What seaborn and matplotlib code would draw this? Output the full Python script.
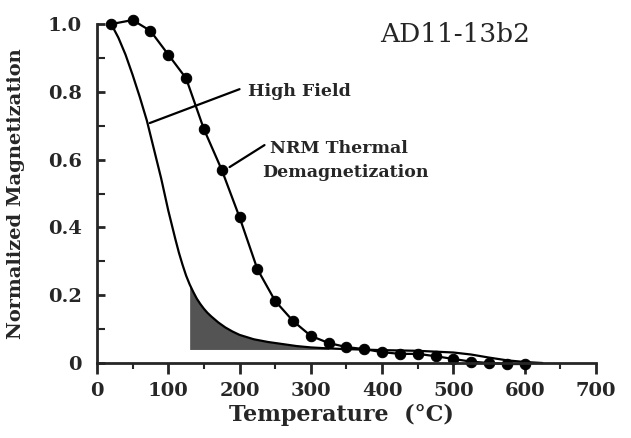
import numpy as np
import pandas as pd
import seaborn as sns
import matplotlib.pyplot as plt
from matplotlib.ticker import MultipleLocator

# NRM thermal demagnetization steps
nrm_temp = [20, 50, 75, 100, 125, 150, 175, 200, 225, 250, 275, 300,
            325, 350, 375, 400, 425, 450, 475, 500, 525, 550, 575, 600]
nrm_mag = [1.0, 1.012, 0.98, 0.91, 0.84, 0.69, 0.57, 0.43, 0.277, 0.183, 0.124, 0.08,
           0.059, 0.047, 0.041, 0.032, 0.027, 0.027, 0.02, 0.012, 0.004, 0.0, -0.003, -0.003]

# high field thermomagnetic curve
hf_temp = [20, 30, 40, 50, 60, 70, 80, 90, 100, 110, 115, 120, 125, 130, 135, 140,
           145, 150, 155, 160, 170, 180, 190, 200, 220, 240, 260, 280, 300, 325,
           350, 400, 450, 500, 525, 550, 575, 600, 625]
hf_mag = [1.0, 0.96, 0.91, 0.85, 0.785, 0.715, 0.63, 0.545, 0.45, 0.365, 0.325,
          0.29, 0.258, 0.232, 0.21, 0.19, 0.174, 0.16, 0.148, 0.138, 0.12, 0.105,
          0.093, 0.083, 0.07, 0.062, 0.056, 0.05, 0.046, 0.043, 0.041, 0.038,
          0.036, 0.031, 0.025, 0.016, 0.008, 0.003, 0.0]

shade_from, shade_to, shade_floor = 130, 325, 0.04

nrm = pd.DataFrame({'T': nrm_temp, 'M': nrm_mag})
hf = pd.DataFrame({'T': hf_temp, 'M': hf_mag})

sns.set_style("ticks")
plt.rcParams['font.family'] = 'DejaVu Serif'
plt.rcParams['font.weight'] = 'bold'

fig = plt.figure(figsize=(6.31, 4.38), dpi=100)
ax = fig.add_axes([0.1537, 0.1712, 0.7908, 0.7738])

sns.lineplot(data=hf, x='T', y='M', color='black', lw=1.6, ax=ax)
sns.lineplot(data=nrm, x='T', y='M', color='black', lw=1.6, marker='o',
             markersize=7.5, markeredgecolor='black', ax=ax)
for ln in ax.lines:
    ln.set_clip_on(False)

m = (hf['T'] >= shade_from) & (hf['T'] <= shade_to)
ax.fill_between(hf['T'][m], shade_floor, hf['M'][m], color='0.33', lw=0)

ax.set_xlim(0, 700)
ax.set_ylim(0, 1.0)
ax.xaxis.set_major_locator(MultipleLocator(100))
ax.xaxis.set_minor_locator(MultipleLocator(50))
ax.yaxis.set_minor_locator(MultipleLocator(0.1))
ax.set_yticks([0, 0.2, 0.4, 0.6, 0.8, 1.0])
ax.set_yticklabels(['0', '0.2', '0.4', '0.6', '0.8', '1.0'])
ax.tick_params(axis='x', which='major', direction='out', length=8, width=2,
               labelsize=14, pad=6)
ax.tick_params(axis='x', which='minor', direction='out', length=4, width=1.5)
ax.tick_params(axis='y', which='major', direction='in', length=6, width=2,
               labelsize=14, pad=11)
ax.tick_params(axis='y', which='minor', direction='in', length=6, width=1.5)
for lab in ax.get_xticklabels() + ax.get_yticklabels():
    lab.set_fontweight('bold')

sns.despine(ax=ax)
for s in ['left', 'bottom']:
    ax.spines[s].set_linewidth(2)

ax.set_xlabel('Temperature  (°C)', fontsize=16, fontweight='bold')
ax.set_ylabel('Normalized Magnetization', fontsize=14, fontweight='bold')
ax.xaxis.set_label_coords(0.49, -0.12)
ax.yaxis.set_label_coords(-0.145, 0.5)

# annotations
ax.plot([74, 200], [0.708, 0.808], color='black', lw=1.6)
ax.text(212, 0.80, 'High Field', fontsize=12.5, fontweight='bold', va='center')
ax.plot([186, 235], [0.578, 0.643], color='black', lw=1.6)
ax.text(243, 0.634, 'NRM Thermal', fontsize=12.5, fontweight='bold', va='center')
ax.text(231, 0.563, 'Demagnetization', fontsize=12.5, fontweight='bold', va='center')
ax.text(502, 0.97, 'AD11-13b2', fontsize=19, fontweight='normal', ha='center', va='center')

fig.savefig('out.png', dpi=100)
